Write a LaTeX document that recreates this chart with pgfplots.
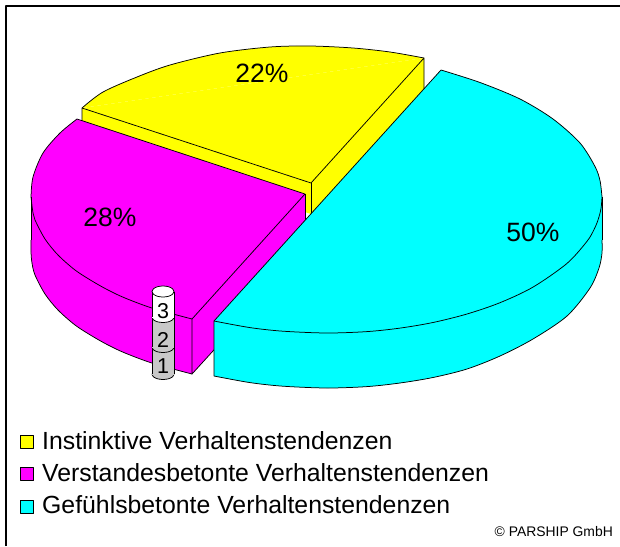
\documentclass[border=0pt]{standalone}
\usepackage{pgfplots}
\usepackage{fontspec}
\setmainfont{Liberation Sans}
\pgfplotsset{compat=1.18}
\definecolor{cy}{RGB}{0,255,255}
\definecolor{ma}{RGB}{255,0,255}
\definecolor{ye}{RGB}{255,255,0}
\definecolor{gr}{RGB}{200,200,200}
\tikzset{
  ln/.style={draw=black,line width=0.75pt},
  big/.style={font=\fontsize{26.5}{30}\selectfont,anchor=base,inner sep=0pt},
  leg/.style={font=\fontsize{24.8}{28}\selectfont,anchor=base west,inner sep=0pt},
  dig/.style={font=\fontsize{21.5}{25}\selectfont,anchor=base,inner sep=0pt}}
\begin{document}
\begin{tikzpicture}
\path[use as bounding box] (0,0) rectangle (620pt,546pt);
\begin{axis}[at={(0,0)},anchor=south west,scale only axis,width=620pt,height=546pt,
  xmin=0,xmax=620,ymin=0,ymax=546,y dir=reverse,hide axis,line join=round]
% frame
\addplot[black,line width=2pt] coordinates {(6,546)(6,6)(620,6)};
% YELLOW
\addplot[fill=ye,draw=none] coordinates {(311,183)(82,108)(82,139)(311,214)(424,89)(424,58)} -- cycle;
\addplot[fill=ye,draw=none] coordinates {(82,108)(311,183)(424,58)} -- cycle;
\addplot[fill=ye,draw=none,smooth] coordinates {(82,108)(103,92)(137,77)(170,65)(220,53)(270,47)(310,46)(353,48)(390,52)(424,58)} -- cycle;
\addplot[ln,smooth] coordinates {(82,108)(103,92)(137,77)(170,65)(220,53)(270,47)(310,46)(353,48)(390,52)(424,58)};
\addplot[ln] coordinates {(82,139)(82,108)(311,183)(424,58)(424,89)};
\addplot[ln] coordinates {(311,183)(311,214)};
% MAGENTA
\addplot[fill=ma,draw=none] coordinates {(77,119)(305,194)(305,250)(192,374)(153,363)(108,345)(58,310)(31,252)(31,197)(43,153)} -- cycle;
\addplot[fill=ma,draw=none,smooth] coordinates {(31,197)(33,177)(43,153)(60,133)(77,119)} -- cycle;
\addplot[fill=ma,draw=none,smooth] coordinates {(31,240)(31,252)(32,263)(35,275)(45,294)(58,310)(75,325)(92,336)(108,345)(125,353)(153,363.4)(192,374)} -- cycle;
\addplot[ln,smooth] coordinates {(31,197)(33,177)(43,153)(60,133)(77,119)};
\addplot[ln,smooth] coordinates {(31,240)(31,252)(32,263)(35,275)(45,294)(58,310)(75,325)(92,336)(108,345)(125,353)(153,363.4)(192,374)};
\addplot[ln,smooth] coordinates {(31,197)(33,213)(35,220)(45,239)(58,255)(75,270)(92,281)(108,290)(125,298)(153,308.4)(192,319)};
\addplot[ln] coordinates {(31,197)(31,240)};
\addplot[ln] coordinates {(77,119)(305,194)(192,319)(192,374)(305,250)};
\addplot[ln] coordinates {(305,194)(305,250)};
% CYAN
\addplot[fill=cy,draw=none] coordinates {(214,321)(441,70)(480,82.5)(520,99)(553,119)(580,143)(595,166.5)(602,197)(602,240)(590,288)(533,339)(467,369)(400,383)(327,388)(250,382.5)(214,376)} -- cycle;
\addplot[fill=cy,draw=none,smooth] coordinates {(441,70)(480,82.5)(520,99)(553,119)(580,143)(595,166.5)(600,180.6)(602,197)} -- cycle;
\addplot[fill=cy,draw=none,smooth] coordinates {(602,240)(602,253)(599,268)(590,288)(567,316)(533,339)(500,356)(467,369)(433,377.5)(400,383)(367,386.6)(327,388)(283,386.2)(250,382.6)(214,376)} -- cycle;
\addplot[ln,smooth] coordinates {(441,70)(480,82.5)(520,99)(553,119)(580,143)(595,166.5)(600,180.6)(602,197)};
\addplot[ln,smooth] coordinates {(602,240)(602,253)(599,268)(590,288)(567,316)(533,339)(500,356)(467,369)(433,377.5)(400,383)(367,386.6)(327,388)(283,386.2)(250,382.6)(214,376)};
\addplot[ln,smooth] coordinates {(602,197)(601,208.6)(598,220)(594,229.6)(587,241.3)(567,263.4)(533,287.1)(500,302.7)(467,314)(433,322.5)(400,328.1)(367,331.6)(327,333)(283,331.2)(250,327.6)(214,321)};
\addplot[ln] coordinates {(602,197)(602,240)};
\addplot[ln] coordinates {(441,70)(214,321)(214,376)};
% STACK, bottom segment
\addplot[fill=gr,ln,smooth] coordinates {(152,374)(153.4,376.8)(157.5,378.8)(163,379.5)(168.5,378.8)(172.6,376.8)(174,374)} -- cycle;
\addplot[fill=gr,draw=none] coordinates {(152,345)(152,375)(174,375)(174,345)} -- cycle;
\addplot[ln] coordinates {(152,345)(152,374)};
\addplot[ln] coordinates {(174,345)(174,374)};
% middle segment
\addplot[fill=gr,ln,smooth] coordinates {(152,347)(153.4,349.8)(157.5,351.8)(163,352.5)(168.5,351.8)(172.6,349.8)(174,347)} -- cycle;
\addplot[fill=gr,draw=none] coordinates {(152,315)(152,348)(174,348)(174,315)} -- cycle;
\addplot[ln] coordinates {(152,315)(152,347)};
\addplot[ln] coordinates {(174,315)(174,347)};
% top segment
\addplot[fill=white,ln,smooth] coordinates {(152,317)(153.4,319.8)(157.5,321.8)(163,322.5)(168.5,321.8)(172.6,319.8)(174,317)} -- cycle;
\addplot[fill=white,draw=none] coordinates {(152,291.5)(152,318)(174,318)(174,291.5)} -- cycle;
\addplot[ln] coordinates {(152,291.5)(152,317)};
\addplot[ln] coordinates {(174,291.5)(174,317)};
\addplot[fill=white,ln,smooth cycle] coordinates {(152,291.5)(153.4,288.8)(157.5,286.7)(163,286)(168.5,286.7)(172.6,288.8)(174,291.5)(172.6,294.2)(168.5,296.3)(163,297)(157.5,296.3)(153.4,294.2)};
% LEGEND SWATCHES
\addplot[fill=ye,ln] coordinates {(20.5,435.5)(33.5,435.5)(33.5,448.5)(20.5,448.5)} -- cycle;
\addplot[fill=ma,ln] coordinates {(20.5,467.5)(33.5,467.5)(33.5,480.5)(20.5,480.5)} -- cycle;
\addplot[fill=cy,ln] coordinates {(20.5,500.5)(33.5,500.5)(33.5,513.5)(20.5,513.5)} -- cycle;
% TEXT
\node[big] at (axis cs:262,82) {22\%};
\node[big] at (axis cs:110,226) {28\%};
\node[big] at (axis cs:533,241) {50\%};
\node[dig] at (axis cs:163,318) {3};
\node[dig] at (axis cs:163,347) {2};
\node[dig] at (axis cs:163,373) {1};
\node[leg] at (axis cs:42,449) {Instinktive Verhaltenstendenzen};
\node[leg] at (axis cs:42,481) {Verstandesbetonte Verhaltenstendenzen};
\node[leg] at (axis cs:42,513) {Gefühlsbetonte Verhaltenstendenzen};
\node[font=\fontsize{13.9}{16}\selectfont,anchor=base east,inner sep=0pt] at (axis cs:613,536) {© PARSHIP GmbH};
\end{axis}
\end{tikzpicture}
\end{document}
